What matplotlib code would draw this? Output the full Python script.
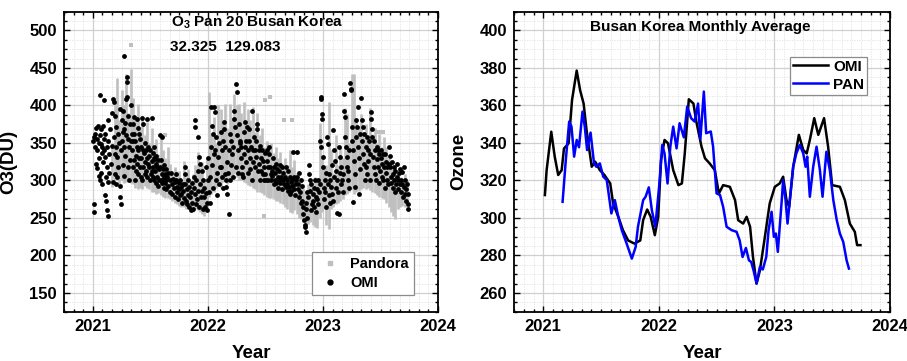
import matplotlib
matplotlib.use("Agg")
import matplotlib.pyplot as plt
from matplotlib.ticker import MultipleLocator, AutoMinorLocator
from matplotlib.lines import Line2D
import numpy as np

plt.rcParams['font.family'] = ['Liberation Sans', 'DejaVu Sans']
plt.rcParams['font.weight'] = 'bold'
plt.rcParams['mathtext.fontset'] = 'custom'
plt.rcParams['mathtext.rm'] = 'Liberation Sans:bold'
plt.rcParams['mathtext.bf'] = 'Liberation Sans:bold'
plt.rcParams['mathtext.it'] = 'Liberation Sans:bold:italic'

# ---------------- Daily OMI total ozone (decimal year, DU) ----------------
omi_2021 = [
    (2021.005,352),(2021.008,268),(2021.010,358),(2021.012,258),(2021.018,345),(2021.020,362),
    (2021.025,322),(2021.030,370),(2021.033,340),(2021.036,316),(2021.040,355),(2021.045,372),
    (2021.050,330),(2021.052,306),(2021.055,350),(2021.060,414),(2021.062,300),(2021.065,360),
    (2021.070,348),(2021.072,310),(2021.075,368),(2021.078,295),(2021.080,336),(2021.083,345),
    (2021.085,325),
    (2021.090,372),(2021.095,407),(2021.097,340),(2021.100,355),(2021.102,280),(2021.105,331),
    (2021.110,362),(2021.112,305),(2021.115,273),(2021.120,345),(2021.122,260),(2021.125,318),
    (2021.130,380),(2021.132,352),(2021.134,253),(2021.136,298),(2021.140,335),(2021.145,310),
    (2021.150,368),(2021.155,322),
    (2021.165,390),(2021.170,346),(2021.172,298),(2021.178,409),(2021.180,404),(2021.183,358),
    (2021.190,386),(2021.192,335),(2021.195,309),(2021.200,371),(2021.203,344),(2021.205,295),
    (2021.210,331),(2021.213,304),(2021.220,362),(2021.223,318),(2021.230,350),(2021.232,293),
    (2021.235,278),(2021.240,395),(2021.242,340),(2021.245,269),
    (2021.250,380),(2021.252,352),(2021.258,393),(2021.260,365),(2021.262,320),(2021.267,466),
    (2021.270,369),(2021.272,345),(2021.275,306),(2021.280,376),(2021.283,333),(2021.285,408),
    (2021.290,360),(2021.295,438),(2021.297,431),(2021.300,411),(2021.302,355),(2021.305,318),
    (2021.310,386),(2021.312,344),(2021.315,300),(2021.320,375),(2021.322,327),(2021.330,400),
    (2021.332,353),
    (2021.340,362),(2021.342,340),(2021.345,318),(2021.350,375),(2021.352,352),(2021.355,327),
    (2021.360,384),(2021.362,362),(2021.365,300),(2021.370,353),(2021.372,333),(2021.375,313),
    (2021.380,382),(2021.382,344),(2021.385,322),(2021.390,370),(2021.392,340),(2021.395,309),
    (2021.400,362),(2021.402,330),(2021.410,355),(2021.412,318),(2021.415,305),
    (2021.420,344),(2021.422,330),(2021.425,300),(2021.430,383),(2021.432,340),(2021.435,318),
    (2021.440,375),(2021.442,336),(2021.450,350),(2021.452,325),(2021.455,309),(2021.460,340),
    (2021.462,313),(2021.470,382),(2021.472,330),(2021.475,305),(2021.480,345),(2021.482,322),
    (2021.490,333),(2021.492,318),(2021.495,300),(2021.500,340),(2021.502,309),
    (2021.510,383),(2021.512,326),(2021.515,313),(2021.520,336),(2021.522,318),(2021.525,305),
    (2021.530,345),(2021.532,330),(2021.535,300),(2021.540,328),(2021.542,312),(2021.545,296),
    (2021.550,333),(2021.552,322),(2021.560,318),(2021.562,305),(2021.565,292),(2021.570,327),
    (2021.572,300),(2021.578,315),
    (2021.585,360),(2021.588,318),(2021.590,300),(2021.595,327),(2021.598,309),(2021.600,296),
    (2021.605,358),(2021.608,315),(2021.610,300),(2021.615,320),(2021.618,305),(2021.620,290),
    (2021.625,309),(2021.628,296),(2021.635,315),(2021.638,300),(2021.640,288),(2021.645,305),
    (2021.650,292),(2021.655,310),
    (2021.670,300),(2021.675,285),(2021.680,310),(2021.685,295),(2021.690,282),(2021.700,302),
    (2021.705,290),(2021.710,278),(2021.715,298),(2021.720,309),(2021.727,300),(2021.730,291),
    (2021.735,285),(2021.740,275),(2021.745,296),(2021.750,288),(2021.755,280),
    (2021.760,300),(2021.765,291),(2021.770,282),(2021.775,270),(2021.780,295),(2021.785,286),
    (2021.790,276),(2021.800,318),(2021.802,309),(2021.805,295),(2021.810,273),(2021.815,288),
    (2021.820,269),(2021.825,280),(2021.830,300),(2021.835,264),(2021.840,291),(2021.845,278),
    (2021.850,260),(2021.855,285),(2021.860,296),(2021.865,270),(2021.870,262),(2021.875,290),
    (2021.880,305),(2021.885,380),(2021.888,371),(2021.890,282),(2021.895,268),(2021.900,300),
    (2021.905,275),(2021.910,313),(2021.914,358),(2021.918,286),(2021.920,331),(2021.925,265),
    (2021.930,322),(2021.935,295),(2021.940,278),(2021.945,286),(2021.950,313),(2021.955,262),
    (2021.960,300),(2021.965,278),(2021.970,290),(2021.975,264),(2021.980,318),(2021.985,283),
    (2021.990,270),(2021.995,260),(2021.998,300),
]

omi_2022 = [
    (2022.005,330),(2022.010,285),(2022.015,305),(2022.020,270),(2022.025,345),(2022.030,398),
    (2022.032,373),(2022.035,320),(2022.040,290),(2022.045,362),(2022.050,398),(2022.055,335),
    (2022.060,340),(2022.065,391),(2022.068,358),(2022.070,300),(2022.075,310),(2022.080,280),
    (2022.090,331),(2022.095,350),(2022.100,295),(2022.105,318),(2022.110,365),(2022.115,318),
    (2022.120,340),(2022.125,305),(2022.130,290),(2022.135,353),(2022.140,378),(2022.144,369),
    (2022.150,344),(2022.152,309),(2022.155,300),(2022.160,291),(2022.165,325),(2022.170,282),
    (2022.175,310),(2022.180,340),(2022.187,255),(2022.190,300),(2022.195,362),(2022.200,353),
    (2022.205,320),(2022.210,335),(2022.215,305),(2022.220,345),(2022.225,393),(2022.230,382),
    (2022.235,371),(2022.240,318),
    (2022.245,429),(2022.250,418),(2022.255,360),(2022.260,340),(2022.265,310),(2022.270,375),
    (2022.275,350),(2022.280,353),(2022.285,344),(2022.290,330),(2022.295,318),(2022.300,309),
    (2022.305,304),(2022.310,365),(2022.315,335),(2022.320,378),(2022.325,344),
    (2022.330,353),(2022.335,325),(2022.340,371),(2022.345,340),(2022.350,310),(2022.355,369),
    (2022.360,353),(2022.365,330),(2022.370,315),(2022.375,345),(2022.380,300),(2022.385,392),
    (2022.390,340),(2022.395,325),(2022.400,358),(2022.405,340),(2022.410,318),
    (2022.415,353),(2022.420,331),(2022.425,375),(2022.430,369),(2022.435,312),(2022.440,340),
    (2022.445,322),(2022.450,300),(2022.455,346),(2022.460,330),(2022.465,313),(2022.470,340),
    (2022.475,309),(2022.480,326),(2022.485,300),(2022.490,318),(2022.495,336),
    (2022.500,309),(2022.505,300),(2022.510,326),(2022.515,340),(2022.520,300),(2022.525,318),
    (2022.530,344),(2022.535,335),(2022.540,318),(2022.545,309),(2022.550,300),(2022.555,313),
    (2022.560,306),(2022.565,330),(2022.570,295),(2022.575,318),
    (2022.580,310),(2022.585,300),(2022.590,322),(2022.595,296),(2022.600,315),(2022.605,305),
    (2022.610,290),(2022.615,312),(2022.620,300),(2022.625,320),(2022.630,296),(2022.635,305),
    (2022.640,318),(2022.645,288),(2022.650,300),(2022.655,310),
    (2022.665,295),(2022.670,304),(2022.675,318),(2022.680,291),(2022.685,300),(2022.690,295),
    (2022.695,286),(2022.700,312),(2022.705,291),(2022.710,304),(2022.715,282),(2022.720,298),
    (2022.725,286),(2022.730,300),(2022.735,292),(2022.740,338),
    (2022.745,305),(2022.750,289),(2022.755,295),(2022.760,280),(2022.765,300),(2022.770,338),
    (2022.775,304),(2022.780,295),(2022.785,289),(2022.790,310),(2022.795,278),(2022.800,285),
    (2022.805,300),(2022.810,270),(2022.815,292),(2022.820,273),
    (2022.825,264),(2022.830,255),(2022.835,247),(2022.840,238),(2022.845,240),(2022.850,231),
    (2022.852,262),(2022.855,270),(2022.860,250),(2022.865,285),(2022.870,278),(2022.875,320),
    (2022.880,309),(2022.885,300),(2022.890,286),(2022.895,260),(2022.900,295),(2022.905,268),
    (2022.910,282),(2022.915,273),(2022.920,264),(2022.925,290),(2022.930,300),(2022.935,278),
    (2022.940,258),(2022.945,288),(2022.950,275),(2022.955,300),(2022.960,268),(2022.965,285),
    (2022.970,295),(2022.975,353),(2022.980,411),(2022.983,409),(2022.985,344),(2022.990,389),
    (2022.993,382),(2022.997,331),
]

omi_2023 = [
    (2023.000,318),(2023.005,290),(2023.010,275),(2023.015,300),(2023.020,285),(2023.025,265),
    (2023.030,310),(2023.035,358),(2023.040,349),(2023.045,295),(2023.050,309),(2023.055,280),
    (2023.060,300),(2023.065,270),(2023.070,291),(2023.075,320),(2023.080,282),
    (2023.085,367),(2023.090,273),(2023.095,340),(2023.100,305),(2023.105,326),(2023.110,290),
    (2023.115,313),(2023.120,257),(2023.125,300),(2023.130,285),(2023.135,255),(2023.140,344),
    (2023.145,310),(2023.150,331),(2023.155,295),(2023.160,318),
    (2023.165,300),(2023.170,309),(2023.175,285),(2023.180,415),(2023.185,393),(2023.190,384),
    (2023.195,358),(2023.200,344),(2023.205,318),(2023.210,331),(2023.215,300),(2023.220,313),
    (2023.225,290),(2023.230,340),(2023.236,430),(2023.240,422),(2023.245,420),
    (2023.250,371),(2023.255,353),(2023.260,340),(2023.264,271),(2023.270,326),(2023.275,309),
    (2023.280,291),(2023.285,358),(2023.290,380),(2023.295,371),(2023.300,345),(2023.305,398),
    (2023.310,330),(2023.315,282),(2023.320,362),(2023.325,315),(2023.330,410),(2023.335,380),
    (2023.340,353),(2023.345,371),(2023.350,335),(2023.355,322),(2023.360,362),(2023.365,300),
    (2023.370,344),(2023.375,318),(2023.380,358),(2023.385,309),(2023.390,340),(2023.395,326),
    (2023.400,353),(2023.405,300),(2023.410,335),(2023.415,391),
    (2023.420,382),(2023.425,369),(2023.430,358),(2023.435,331),(2023.440,353),(2023.445,318),
    (2023.450,340),(2023.455,309),(2023.460,300),(2023.465,328),(2023.470,344),(2023.475,318),
    (2023.480,340),(2023.485,296),(2023.490,335),(2023.495,313),
    (2023.500,330),(2023.505,340),(2023.510,305),(2023.515,322),(2023.520,335),(2023.525,300),
    (2023.530,318),(2023.535,290),(2023.540,335),(2023.545,310),(2023.550,325),(2023.555,300),
    (2023.560,318),(2023.565,295),(2023.570,322),(2023.575,344),(2023.580,333),
    (2023.585,318),(2023.590,305),(2023.595,296),(2023.600,325),(2023.605,309),(2023.610,290),
    (2023.615,318),(2023.620,300),(2023.625,285),(2023.630,312),(2023.635,295),(2023.640,322),
    (2023.645,305),(2023.650,288),(2023.655,300),(2023.660,310),
    (2023.665,295),(2023.670,315),(2023.675,300),(2023.680,285),(2023.685,311),(2023.690,295),
    (2023.695,278),(2023.700,318),(2023.705,291),(2023.710,282),(2023.715,300),(2023.720,288),
    (2023.725,272),(2023.730,295),(2023.735,282),(2023.740,262),(2023.742,268),
]

# ---------------- Pandora daily spread (decimal year, low DU, high DU) ----------------
pandora_range = [
    (2021.17,291,344),(2021.19,300,400),(2021.21,300,436),(2021.23,295,380),(2021.25,300,420),
    (2021.27,297,400),(2021.29,298,442),(2021.31,300,390),(2021.33,296,449),(2021.35,295,410),
    (2021.37,290,380),(2021.39,289,402),(2021.41,290,370),(2021.43,288,385),(2021.45,292,360),
    (2021.47,290,378),(2021.49,288,350),(2021.51,285,370),(2021.53,284,345),(2021.55,282,355),
    (2021.57,283,335),(2021.59,280,360),(2021.61,278,340),(2021.63,277,330),(2021.65,276,345),
    (2021.67,275,322),(2021.69,272,310),(2021.71,270,318),(2021.73,268,305),(2021.75,266,312),
    (2021.77,265,300),(2021.79,264,326),(2021.81,262,304),(2021.83,263,315),(2021.85,260,300),
    (2021.87,258,308),(2021.89,262,320),(2021.91,260,338),(2021.93,258,318),(2021.95,255,325),
    (2021.97,253,300),(2021.99,262,330),
    (2022.01,278,418),(2022.03,282,360),(2022.05,285,384),(2022.07,290,350),(2022.09,292,400),
    (2022.11,290,395),(2022.13,298,380),(2022.15,300,402),(2022.17,295,370),(2022.19,300,402),
    (2022.21,305,385),(2022.23,309,415),(2022.25,305,400),(2022.27,300,402),(2022.29,300,390),
    (2022.31,298,405),(2022.33,296,375),(2022.35,294,395),(2022.37,292,380),(2022.39,290,398),
    (2022.41,288,365),(2022.43,285,390),(2022.45,284,360),(2022.47,283,370),(2022.49,280,345),
    (2022.51,278,352),(2022.53,276,340),(2022.55,276,350),(2022.57,275,336),(2022.59,273,345),
    (2022.61,272,330),(2022.63,270,338),(2022.65,268,322),(2022.67,264,330),(2022.69,262,320),
    (2022.71,258,340),(2022.73,256,318),(2022.75,260,327),(2022.77,255,310),(2022.79,250,300),
    (2022.81,248,296),(2022.83,245,290),(2022.85,240,285),(2022.87,242,295),(2022.89,245,300),
    (2022.91,240,290),(2022.93,238,305),(2022.95,236,300),(2022.97,250,376),(2022.99,258,330),
    (2023.01,262,315),(2023.03,240,320),(2023.05,235,404),(2023.07,262,340),(2023.09,265,310),
    (2023.11,268,360),(2023.13,270,320),(2023.15,272,345),(2023.17,275,330),(2023.19,280,397),
    (2023.21,282,389),(2023.23,284,350),(2023.25,288,442),(2023.27,282,442),(2023.29,285,380),
    (2023.31,286,372),(2023.33,288,389),(2023.35,290,365),(2023.37,288,375),(2023.39,290,355),
    (2023.41,287,396),(2023.43,285,360),(2023.45,283,370),(2023.47,280,350),(2023.49,278,362),
    (2023.51,276,345),(2023.53,275,358),(2023.55,270,345),(2023.57,265,330),(2023.59,258,322),
    (2023.61,252,320),(2023.63,249,318),(2023.65,262,310),(2023.67,265,305),(2023.69,266,300),
    (2023.71,264,309),(2023.73,266,300),
]
# isolated Pandora retrievals
pandora_single = [
    (2021.33,481),(2021.63,360),(2022.49,252),(2022.50,407),(2022.54,411),
    (2022.66,380),(2022.73,381),(2023.48,365),(2023.50,365),(2023.52,365),
]

# ---------------- Monthly running averages (decimal year, DU) ----------------
omi_monthly = [
    (2021.015,312.2),(2021.030,325.5),(2021.070,346.0),(2021.100,332.7),(2021.130,322.9),
    (2021.160,325.5),(2021.180,337.0),(2021.220,339.8),(2021.250,363.0),(2021.290,378.6),
    (2021.320,368.0),(2021.350,361.0),(2021.375,347.0),(2021.400,336.0),(2021.420,327.3),
    (2021.450,330.0),(2021.490,325.5),(2021.530,322.9),(2021.580,318.4),(2021.605,307.8),
    (2021.650,300.6),(2021.690,293.5),(2021.735,288.0),(2021.790,286.3),(2021.840,288.0),
    (2021.865,298.9),(2021.900,304.5),(2021.930,300.6),(2021.966,290.8),(2021.995,300.6),
    (2022.020,331.0),(2022.050,341.6),(2022.080,339.8),(2022.125,325.5),(2022.170,317.5),
    (2022.200,318.4),(2022.225,334.4),(2022.260,363.3),(2022.300,361.0),(2022.325,351.4),
    (2022.370,338.0),(2022.400,331.8),(2022.440,329.1),(2022.485,325.5),(2022.520,313.0),
    (2022.557,317.5),(2022.615,316.6),(2022.660,309.5),(2022.687,298.8),(2022.730,297.0),
    (2022.760,300.6),(2022.790,295.3),(2022.815,279.2),(2022.846,265.0),(2022.875,272.0),
    (2022.918,289.9),(2022.960,307.8),(2023.004,316.6),(2023.046,318.4),(2023.076,322.0),
    (2023.105,309.5),(2023.128,305.9),(2023.163,327.3),(2023.212,344.3),(2023.250,336.2),
    (2023.280,334.4),(2023.307,341.6),(2023.345,353.2),(2023.380,344.3),(2023.430,353.2),
    (2023.465,338.0),(2023.500,317.5),(2023.567,316.6),(2023.610,309.5),(2023.653,297.0),
    (2023.696,292.6),(2023.716,285.5),(2023.745,285.5),
]
pan_monthly = [
    (2021.168,308.6),(2021.196,331.0),(2021.225,351.4),(2021.245,348.7),(2021.268,332.7),
    (2021.290,341.6),(2021.310,337.7),(2021.340,356.7),(2021.360,348.7),(2021.380,336.2),
    (2021.410,345.5),(2021.440,329.1),(2021.460,327.3),(2021.490,329.1),(2021.520,322.0),
    (2021.550,320.2),(2021.590,302.4),(2021.620,309.5),(2021.650,300.6),(2021.680,293.5),
    (2021.720,286.7),(2021.767,278.3),(2021.800,284.5),(2021.820,295.3),(2021.865,309.5),
    (2021.886,311.3),(2021.914,316.3),(2021.940,304.2),(2021.970,295.3),(2022.003,316.6),
    (2022.030,338.9),(2022.050,334.4),(2022.076,318.4),(2022.100,338.0),(2022.125,348.7),
    (2022.154,337.1),(2022.180,350.5),(2022.217,343.0),(2022.246,359.4),(2022.280,353.2),
    (2022.310,351.4),(2022.340,361.0),(2022.360,342.0),(2022.390,367.4),(2022.410,345.2),
    (2022.450,346.1),(2022.470,338.0),(2022.500,313.1),(2022.530,312.2),(2022.557,305.9),
    (2022.587,295.3),(2022.630,293.5),(2022.673,292.6),(2022.700,288.0),(2022.725,279.2),
    (2022.754,284.0),(2022.780,277.4),(2022.800,276.5),(2022.820,272.0),(2022.846,265.0),
    (2022.875,273.9),(2022.900,272.5),(2022.930,279.2),(2022.950,293.5),(2022.976,303.3),
    (2022.996,289.9),(2023.013,291.7),(2023.030,281.9),(2023.064,309.5),(2023.076,320.2),
    (2023.097,309.5),(2023.114,297.0),(2023.134,309.5),(2023.163,327.3),(2023.190,334.4),
    (2023.220,338.9),(2023.250,334.4),(2023.270,327.3),(2023.284,332.7),(2023.307,311.3),
    (2023.336,327.3),(2023.365,338.0),(2023.394,325.5),(2023.417,311.3),(2023.450,335.3),
    (2023.480,325.5),(2023.510,309.5),(2023.540,298.8),(2023.567,291.7),(2023.596,287.2),
    (2023.625,277.4),(2023.645,273.0),
]

year_ticks = [2021, 2022, 2023, 2024]
station_title = "O$_3$ Pan 20 Busan Korea"
station_coords = "32.325  129.083"
monthly_title = "Busan Korea Monthly Average"

omi_t, omi_v = zip(*(omi_2021 + omi_2022 + omi_2023))
pan_t, pan_lo, pan_hi = zip(*pandora_range)
pan_st, pan_sv = zip(*pandora_single)
om_t, om_v = zip(*omi_monthly)
pm_t, pm_v = zip(*pan_monthly)

GRAY = '#bfbfbf'

fig = plt.figure(figsize=(9.07, 3.61), dpi=100)
ax1 = fig.add_axes([0.0706, 0.1366, 0.4124, 0.831])
ax2 = fig.add_axes([0.5670, 0.1366, 0.4142, 0.831])


def style_axes(ax, ylim, ymajor):
    ax.set_xlim(2020.75, 2024.0)
    ax.set_ylim(*ylim)
    ax.xaxis.set_major_locator(MultipleLocator(1))
    ax.xaxis.set_minor_locator(MultipleLocator(1 / 12))
    ax.yaxis.set_major_locator(MultipleLocator(ymajor))
    ax.yaxis.set_minor_locator(AutoMinorLocator(4))
    ax.set_xticks(year_ticks)
    ax.set_xticklabels([str(y) for y in year_ticks])
    ax.grid(which='major', color='#d0d0d0', lw=0.9, ls='-')
    ax.grid(which='minor', color='#e2e2e2', lw=0.6, ls=(0, (1.5, 1.5)))
    ax.set_axisbelow(True)
    ax.tick_params(which='both', direction='in', top=True, right=True,
                   labelsize=12, width=1.0, pad=5)
    ax.tick_params(which='major', length=4.5)
    ax.tick_params(which='minor', length=2.5)
    for lab in ax.get_xticklabels() + ax.get_yticklabels():
        lab.set_fontweight('bold')
    for sp in ax.spines.values():
        sp.set_linewidth(1.3)
    ax.set_xlabel('Year', fontsize=13.5, fontweight='bold', labelpad=8)


# ---- left: daily Pandora and OMI ----
style_axes(ax1, (125, 525), 50)
ax1.vlines(pan_t, pan_lo, pan_hi, colors=GRAY, lw=1.9, zorder=2)
ax1.scatter(pan_st, pan_sv, marker='s', s=9, color=GRAY, linewidths=0, zorder=2)
ax1.scatter(omi_t, omi_v, s=12, color='black', linewidths=0, zorder=3)
ax1.set_ylabel('O3(DU)', fontsize=13.5, fontweight='bold')
ax1.yaxis.set_label_coords(-0.125, 0.5)
ax1.text(0.516, 0.962, station_title, transform=ax1.transAxes, ha='center', va='center',
         fontsize=11, fontweight='bold')
ax1.text(0.432, 0.882, station_coords, transform=ax1.transAxes, ha='center', va='center',
         fontsize=11, fontweight='bold')
handles1 = [Line2D([], [], ls='none', marker='s', ms=3.5, color=GRAY, mec=GRAY),
            Line2D([], [], ls='none', marker='o', ms=3.5, color='black')]
leg1 = ax1.legend(handles1, ['Pandora', 'OMI'], loc='lower right',
                  bbox_to_anchor=(0.936, 0.056), borderaxespad=0, fancybox=False,
                  edgecolor='#8c8c8c', framealpha=1, handlelength=1.8, handletextpad=0.5,
                  borderpad=0.35, labelspacing=0.3, prop={'weight': 'bold', 'size': 10.5})
leg1.get_frame().set_linewidth(0.9)

# ---- right: monthly averages ----
style_axes(ax2, (250, 410), 20)
ax2.plot(om_t, om_v, color='black', lw=1.8, label='OMI', zorder=3)
ax2.plot(pm_t, pm_v, color='#0000ff', lw=1.8, label='PAN', zorder=3)
ax2.set_ylabel('Ozone', fontsize=13.5, fontweight='bold')
ax2.yaxis.set_label_coords(-0.125, 0.5)
ax2.text(0.496, 0.95, monthly_title, transform=ax2.transAxes, ha='center', va='center',
         fontsize=11, fontweight='bold')
leg2 = ax2.legend(loc='upper right', bbox_to_anchor=(0.939, 0.85), borderaxespad=0,
                  fancybox=False, edgecolor='#8c8c8c', framealpha=1, handlelength=2.3,
                  handletextpad=0.3, borderpad=0.2, labelspacing=0.25,
                  prop={'weight': 'bold', 'size': 11})
leg2.get_frame().set_linewidth(0.9)

fig.savefig('out.png', dpi=100, facecolor='white')
